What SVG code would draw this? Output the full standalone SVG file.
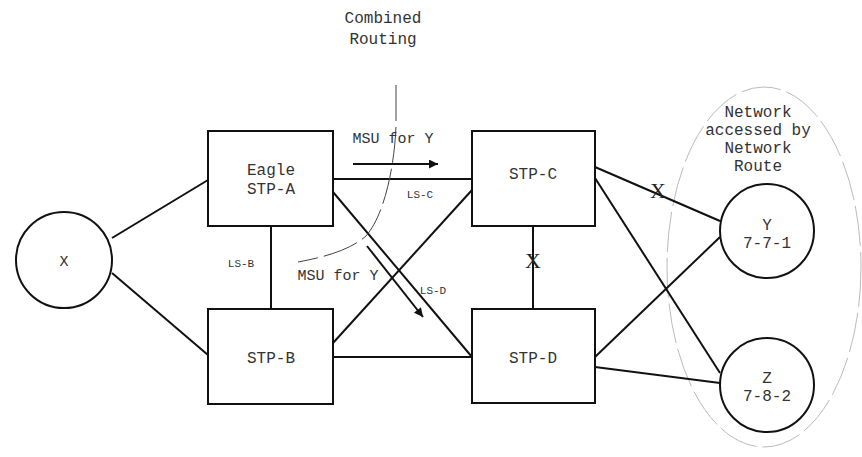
<svg xmlns="http://www.w3.org/2000/svg" width="862" height="457" viewBox="0 0 862 457">
<style>
.n{fill:#fff;stroke:#111;stroke-width:2}
.c{stroke:#111;stroke-width:2;fill:none}
.t{font-family:"Liberation Mono","DejaVu Sans Mono",monospace;font-size:16px;fill:#333;text-anchor:middle}
.m{font-size:15px}
.s{font-size:11px}
.x{font-family:"Liberation Serif",serif;font-size:22px;fill:#222;text-anchor:middle}
</style>
<defs>
<marker id="ah" viewBox="0 0 10 10" refX="10" refY="5" markerWidth="7.5" markerHeight="4.5" markerUnits="strokeWidth" orient="auto">
<path d="M0,0 L10,5 L0,10 z" fill="#111"/>
</marker>
</defs>
<rect width="862" height="457" fill="#fff"/>
<ellipse cx="764" cy="267" rx="97" ry="180" fill="none" stroke="#bbb" stroke-width="1" stroke-dasharray="40 6"/>
<g id="connectors">
<line class="c" x1="112" y1="238" x2="208" y2="180"/>
<line class="c" x1="112" y1="273" x2="208" y2="355"/>
<line class="c" x1="271" y1="226" x2="271" y2="309"/>
<line class="c" x1="333" y1="179" x2="472" y2="179"/>
<line class="c" x1="333" y1="192" x2="472" y2="357"/>
<line class="c" x1="333" y1="343" x2="472" y2="190"/>
<line class="c" x1="333" y1="357" x2="472" y2="357"/>
<line class="c" x1="533" y1="226" x2="533" y2="309"/>
<line class="c" x1="595" y1="167" x2="720" y2="221"/>
<line class="c" x1="595" y1="178" x2="720" y2="373"/>
<line class="c" x1="595" y1="357" x2="720" y2="237"/>
<line class="c" x1="595" y1="367" x2="720" y2="383"/>
<line class="c" x1="353" y1="164" x2="438" y2="164" marker-end="url(#ah)"/>
<line class="c" x1="367" y1="246" x2="423" y2="317" marker-end="url(#ah)"/>
<path d="M396,85 L396,125 C395,160 386,213 366,236 C350,250 325,257 298,262" fill="none" stroke="#444" stroke-width="1" stroke-dasharray="36 6"/>
</g>
<g id="node-x"><circle class="n" cx="64" cy="260" r="48"/><text class="t" x="64" y="266" style="font-size:15px">X</text></g>
<g id="node-stpa"><rect class="n" x="208" y="131" width="125" height="95"/><text class="t" x="271" y="175">Eagle</text><text class="t" x="271" y="194">STP-A</text></g>
<g id="node-stpb"><rect class="n" x="208" y="309" width="125" height="95"/><text class="t" x="271" y="363">STP-B</text></g>
<g id="node-stpc"><rect class="n" x="472" y="131" width="123" height="95"/><text class="t" x="533" y="179">STP-C</text></g>
<g id="node-stpd"><rect class="n" x="472" y="309" width="123" height="94"/><text class="t" x="533" y="363">STP-D</text></g>
<g id="node-y"><circle class="n" cx="767" cy="231" r="47"/><text class="t" x="767" y="230">Y</text><text class="t" x="767" y="248">7-7-1</text></g>
<g id="node-z"><circle class="n" cx="767" cy="385" r="47"/><text class="t" x="767" y="383">Z</text><text class="t" x="767" y="401">7-8-2</text></g>
<g id="labels">
<text class="t" x="383" y="23">Combined</text>
<text class="t" x="383" y="44">Routing</text>
<text class="t" x="758" y="117">Network</text>
<text class="t" x="758" y="135">accessed by</text>
<text class="t" x="758" y="153">Network</text>
<text class="t" x="758" y="171">Route</text>
<text class="t m" x="393" y="143">MSU for Y</text>
<text class="t m" x="338" y="280">MSU for Y</text>
<text class="t s" x="420" y="198">LS-C</text>
<text class="t s" x="241" y="267">LS-B</text>
<text class="t s" x="433" y="294">LS-D</text>
<text class="x" x="533" y="268">X</text>
<text class="x" x="658" y="198">X</text>
</g>
</svg>
